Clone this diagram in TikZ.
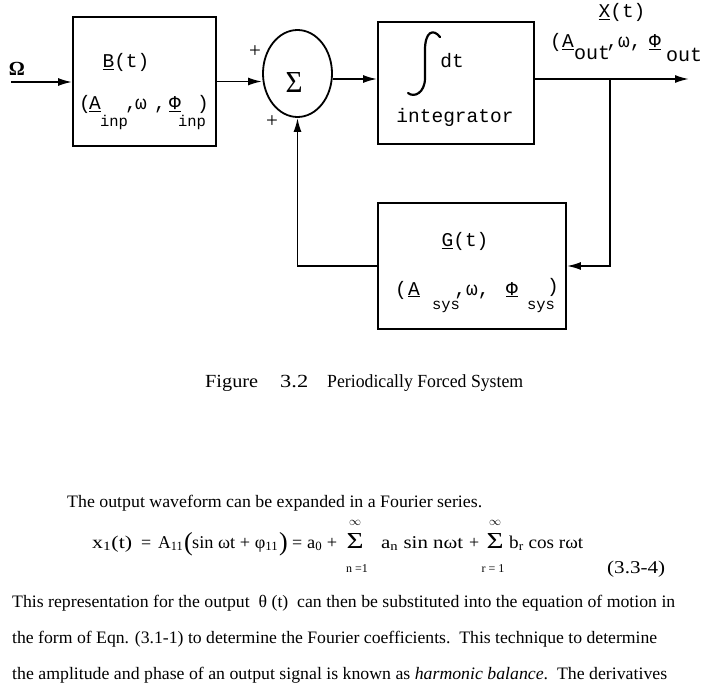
\documentclass[tikz,border=0pt]{standalone}
\usepackage{fontspec}
\usepackage{graphicx}
\setmainfont{Liberation Serif}
\newfontfamily\cour{Liberation Mono}
\usetikzlibrary{arrows.meta,shapes.geometric}
\newcommand\fitw[2]{\resizebox{#1}{\height}{#2}}
\tikzset{
  blk/.style={draw, inner sep=0pt},
  conn/.style={line width=1.8pt},
  arr/.style={conn, -{Latex[length=14pt,width=8pt]}},
  mono/.style={inner sep=0pt, anchor=base, font=\cour\fontsize{19.5}{22}\selectfont},
  monosub/.style={inner sep=0pt, anchor=base, font=\cour\fontsize{15.5}{18}\selectfont},
  monosubL/.style={inner sep=0pt, anchor=base, font=\cour\fontsize{20}{22}\selectfont},
  body/.style={inner sep=0pt, anchor=base west, font=\fontsize{17.5}{20}\selectfont},
  eq/.style={inner sep=0pt, anchor=base west, font=\fontsize{18}{20}\selectfont},
  lim/.style={inner sep=0pt, anchor=base, font=\fontsize{12}{14}\selectfont},
  captxt/.style={inner sep=0pt, anchor=base west, font=\fontsize{18.5}{22}\selectfont},
  plus/.style={inner sep=0pt, font=\fontsize{21}{22}\selectfont},
}
\begin{document}
\begin{tikzpicture}[x=1pt,y=-1pt]
\fill[white] (0,0) rectangle (705,698);
\useasboundingbox (0,0) rectangle (705,698);

% ---------------- blocks
\node[blk, line width=1.8pt, minimum width=143pt, minimum height=129pt] (B) at (144.5,81.5) {};
\node[blk, line width=1.8pt, ellipse, minimum width=69pt, minimum height=87pt] (S) at (297.5,73.5) {};
\node[blk, line width=1.8pt, minimum width=156pt, minimum height=122pt] (I) at (456,83) {};
\node[blk, line width=1.8pt, minimum width=188pt, minimum height=126pt] (G) at (472,266) {};

% ---------------- coordinates
\coordinate (inp) at (11,82);
\coordinate (ysig) at (0,79);
\coordinate (outend) at (689,79);
\coordinate (br) at (610,79);

% ---------------- connectors
\draw[arr] (inp) -- (B.west |- inp);
\draw[arr] (B.east) -- (B.east -| S.west);
\draw[arr] (S.east |- ysig) -- (I.west |- ysig);
\draw[arr] (I.east |- ysig) -- (outend);
\draw[arr] (br) |- (G.east);
\draw[arr] (G.west) -| (S.south);

% ---------------- labels
\node[inner sep=0pt, font=\bfseries\fontsize{20}{20}\selectfont] (omega) at (17,69) {Ω};
\node[mono] (Bt) at (126,68) {\underline{B}(t)};
\node[mono] (Bl) at (85,110) {(};
\node[mono] (BA) at (95,110) {\underline{A}};
\node[monosub] (Bs1) at (114,127) {inp};
\node[mono] (Bc1) at (131,110) {,};
\node[mono] (Bw) at (141,110) {ω};
\node[mono] (Bc2) at (160,110) {,};
\node[mono] (BP) at (175,110) {\underline{Φ}};
\node[monosub] (Bs2) at (192,127) {inp};
\node[mono] (Br) at (203,110) {)};

\node[plus] (p1) at (255,52) {+};
\node[plus] (p2) at (272,122) {+};
\node[inner sep=0pt] (sig) at (294,82) {\resizebox{17pt}{20pt}{Σ}};

\draw[line width=2.2pt, line cap=round] (440,37) .. controls (433,28) and (425,32) .. (425,50) -- (425,78) .. controls (425,93) and (414,98) .. (408,93);
\node[mono] (dt) at (452,68) {dt};
\node[mono] (intg) at (455,123) {integrator};

\node[mono] (Xt) at (622,18) {\underline{X}(t)};
\node[mono] (Xl) at (556,48) {(};
\node[mono] (XA) at (568,48) {\underline{A}};
\node[monosubL] (Xs1) at (592,60) {out};
\node[mono] (Xw) at (624,48) {,ω,};
\node[mono] (XP) at (655,48) {\underline{Φ}};
\node[monosubL] (Xs2) at (684,62) {out};

\node[mono] (Gt) at (465,247) {\underline{G}(t)};
\node[mono] (Gl) at (401,295) {(};
\node[mono] (GA) at (414,295) {\underline{A}};
\node[monosub] (Gs1) at (446,309) {sys};
\node[mono] (Gw) at (472,295) {,ω,};
\node[mono] (GP) at (512,295) {\underline{Φ}};
\node[monosub] (Gs2) at (541,309) {sys};
\node[mono] (Gr) at (553,292) {)};

% ---------------- caption
\node[captxt] (fig) at (205,387) {\fitw{53pt}{Figure}};
\node[captxt] (fignum) at (280,387) {\fitw{28pt}{3.2}};
\node[captxt] (figt) at (327,387) {\fitw{196pt}{Periodically Forced System}};

% ---------------- text
\node[body] (t0) at (67,507) {\fitw{415pt}{The output waveform can be expanded in a Fourier series.}};

\node[eq] (e1) at (92,548) {\fitw{40pt}{x\textsubscript{1}(t)}};
\node[eq] (e2) at (141,548) {=};
\node[eq] (e3) at (158,548) {\fitw{25pt}{A\textsubscript{11}}};
\node[inner sep=0pt, anchor=base west, font=\fontsize{26}{26}\selectfont] (e4) at (184,550) {(};
\node[eq] (e5) at (192,548) {\fitw{86pt}{sin ωt + φ\textsubscript{11}}};
\node[inner sep=0pt, anchor=base west, font=\fontsize{26}{26}\selectfont] (e6) at (279,550) {)};
\node[eq] (e7) at (292,548) {=};
\node[eq] (e8) at (307,548) {\fitw{30pt}{a\textsubscript{0} +}};
\node[inner sep=0pt, anchor=base] (s1) at (355,548) {\resizebox{17pt}{15pt}{Σ}};
\node[lim] (i1) at (355,525) {$\infty$};
\node[lim] (l1) at (357,572) {n =1};
\node[eq] (e9) at (381,548) {\fitw{82pt}{a\textsubscript{n} sin nωt}};
\node[eq] (e10) at (469,548) {+};
\node[inner sep=0pt, anchor=base] (s2) at (495,548) {\resizebox{17pt}{15pt}{Σ}};
\node[lim] (i2) at (495,525) {$\infty$};
\node[lim] (l2) at (493,572) {r = 1};
\node[eq] (e11) at (509,548) {\fitw{74pt}{b\textsubscript{r} cos rωt}};
\node[eq] (e12) at (607,573) {\fitw{58pt}{(3.3-4)}};

\node[body] (t1) at (12,607) {\fitw{663pt}{This representation for the output\enspace θ (t)\enspace can then be substituted into the equation of motion in}};
\node[body] (t2) at (12,643) {\fitw{645pt}{the form of Eqn. (3.1-1) to determine the Fourier coefficients.\enspace This technique to determine}};
\node[body] (t3) at (12,679) {\fitw{655pt}{the amplitude and phase of an output signal is known as \textit{harmonic balance}.\enspace The derivatives}};
\end{tikzpicture}
\end{document}
